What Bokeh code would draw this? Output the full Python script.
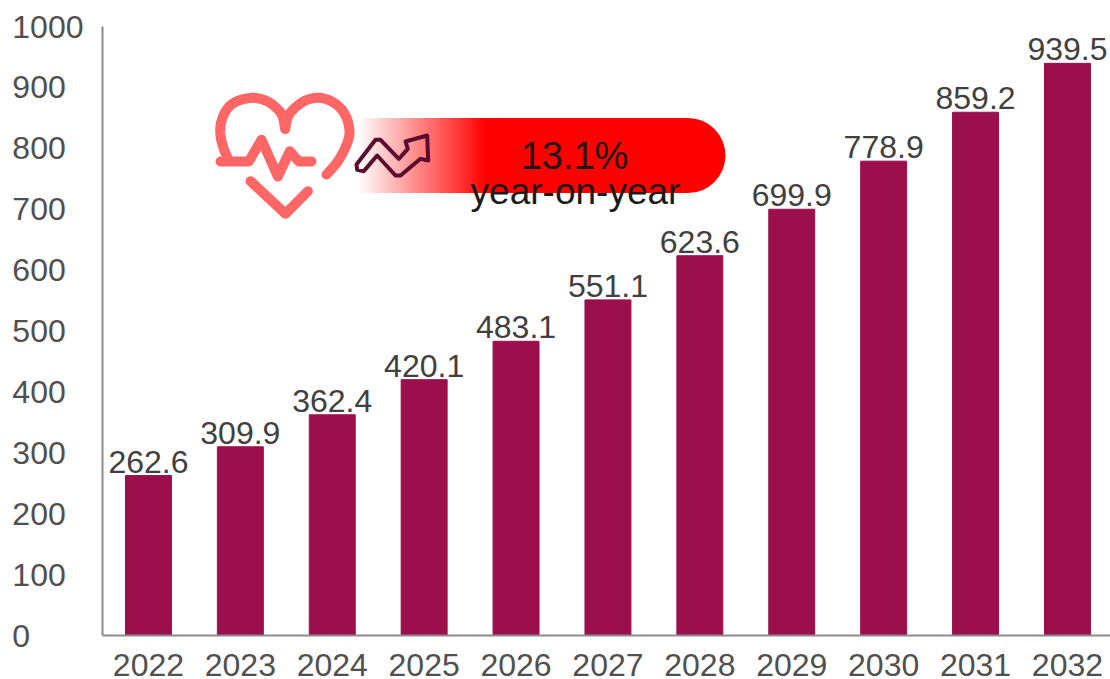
from bokeh.plotting import figure
from bokeh.models import Range1d, FixedTicker, ColumnDataSource, Label
from bokeh.embed import file_html
from bokeh.resources import INLINE

years = [2022, 2023, 2024, 2025, 2026, 2027, 2028, 2029, 2030, 2031, 2032]
market = [262.6, 309.9, 362.4, 420.1, 483.1, 551.1, 623.6, 699.9, 778.9, 859.2, 939.5]
y_ticks = [0, 100, 200, 300, 400, 500, 600, 700, 800, 900, 1000]
cagr_text = "13.1%"
cagr_sub = "year-on-year"

W, H = 1110, 679
LEFT, BASE, TOP = 102, 635, 26
FONT = "Liberation Sans"
BAR = "#9B0F4C"
AXIS = "#8C8C8C"
TICK_TXT = "#505050"
LAB_TXT = "#404040"
HEART = "#FF6666"
ARROW = "#5C0A2E"

p = figure(width=W, height=H, output_backend="svg", toolbar_location=None,
           x_range=Range1d(2021.5, 2021.5 + (W - LEFT) / 91.9), y_range=Range1d(0, 1000),
           min_border_left=LEFT, min_border_right=0, min_border_top=TOP, min_border_bottom=H - BASE,
           margin=(0, 0, 0, 0), outline_line_color=None, background_fill_color="white")
p.grid.visible = False
p.extra_x_ranges["px"] = Range1d(LEFT, W)
p.extra_y_ranges["px"] = Range1d(BASE, TOP)

for ax in (p.xaxis[0], p.yaxis[0]):
    ax.major_tick_line_color = None
    ax.minor_tick_line_color = None
    ax.axis_line_color = AXIS
    ax.axis_line_width = 2
    ax.major_label_text_font = FONT
    ax.major_label_text_font_size = "32px"
    ax.major_label_text_color = TICK_TXT
p.xaxis[0].ticker = FixedTicker(ticks=years)
p.xaxis[0].major_label_overrides = {y: str(y) for y in years}
p.xaxis[0].major_label_standoff = 12
p.yaxis[0].ticker = FixedTicker(ticks=y_ticks)
# labels in the reference are left aligned: pad with no-break spaces (2 = one digit)
p.yaxis[0].major_label_overrides = {t: str(t) + "\u00a0" * (2 * (4 - len(str(t)))) for t in y_ticks}
p.yaxis[0].major_label_standoff = 13

src = ColumnDataSource(dict(x=years, top=market))
p.vbar(x="x", top="top", bottom=0, width=0.5, color=BAR, source=src)


def px(xs, ys, **kw):
    return p.line(xs, ys, x_range_name="px", y_range_name="px", **kw)


def z(points):
    """zoomed-crop coordinates of the icon to page pixels"""
    return [200 + a / 3 for a, b in points], [80 + b / 3 for a, b in points]


def smooth(points, n=8):
    out = []
    P = [points[0]] + points + [points[-1]]
    for i in range(1, len(P) - 2):
        for k in range(n):
            t = k / n
            c = [0.5 * ((2 * P[i][d]) + (-P[i - 1][d] + P[i + 1][d]) * t
                        + (2 * P[i - 1][d] - 5 * P[i][d] + 4 * P[i + 1][d] - P[i + 2][d]) * t * t
                        + (-P[i - 1][d] + 3 * P[i][d] - 3 * P[i + 1][d] + P[i + 2][d]) * t ** 3) for d in (0, 1)]
            out.append(c)
    out.append(points[-1])
    return out


# banner
x0, x1, x2, ytop, ybot = 358, 485, 725, 117.5, 192.5
r = (ybot - ytop) / 2
steps = 64
lefts = [x0 + (x1 - x0) * i / steps for i in range(steps)]
cols = []
for i in range(steps):
    g = round(255 * (1 - (i + 0.5) / steps))
    cols.append(f"#ff{g:02x}{g:02x}")
p.quad(left=lefts, right=[x2 - r] * steps, top=[ytop] * steps, bottom=[ybot] * steps,
       fill_color=cols, line_color=None, x_range_name="px", y_range_name="px")
p.quad(left=[x1], right=[x2 - r], top=[ytop], bottom=[ybot], fill_color="#ff0000", line_color=None,
       x_range_name="px", y_range_name="px")
p.wedge(x=[x2 - r], y=[(ytop + ybot) / 2], radius=r, radius_units="screen", start_angle=-1.5708, end_angle=1.5708,
        fill_color="#ff0000", line_color=None, x_range_name="px", y_range_name="px")

# heart icon
outline = [(378, 282), (410, 245), (435, 200), (447, 155), (435, 105), (405, 70), (360, 52), (315, 60), (280, 85),
           (262, 110), (254, 145)]
outline2 = [(254, 145), (245, 105), (225, 80), (195, 60), (155, 52), (110, 62), (80, 85), (62, 125), (60, 165),
            (70, 205), (85, 240)]
pulse = [(60, 243), (145, 243), (183, 178), (232, 288), (268, 212), (295, 243), (333, 243)]
chev = [(150, 302), (255, 400), (322, 332)]
style = dict(line_color=HEART, line_width=10, line_cap="round", line_join="round")
for pts in (smooth(outline), smooth(outline2), pulse, chev):
    xs, ys = z(pts)
    px(xs, ys, **style)

arrow = [(468, 252), (525, 178), (540, 178), (595, 235), (622, 205), (615, 183), (680, 165), (683, 240), (660, 235),
         (600, 285), (585, 285), (530, 225), (490, 272), (470, 268), (468, 252)]
xs, ys = z(arrow)
px(xs, ys, line_color=ARROW, line_width=4, line_cap="round", line_join="round")

# bar value labels, drawn outside the clip of the frame
for yr, v in zip(years, market):
    p.add_layout(Label(x=yr, y=v, text=f"{v:.1f}", text_font=FONT, text_font_size="32px", text_color=LAB_TXT,
                       text_align="center", text_baseline="alphabetic", y_offset=14))

p.add_layout(Label(x=574, y=155, x_range_name="px", y_range_name="px", text=cagr_text, text_font=FONT,
                   text_font_size="38px", text_color="#1A1A1A", text_align="center", text_baseline="alphabetic"))
p.add_layout(Label(x=575, y=191, x_range_name="px", y_range_name="px", text=cagr_sub, text_font=FONT,
                   text_font_size="37px", text_color="#1A1A1A", text_align="center", text_baseline="alphabetic"))

open("out.html", "w").write(file_html(p, INLINE))
